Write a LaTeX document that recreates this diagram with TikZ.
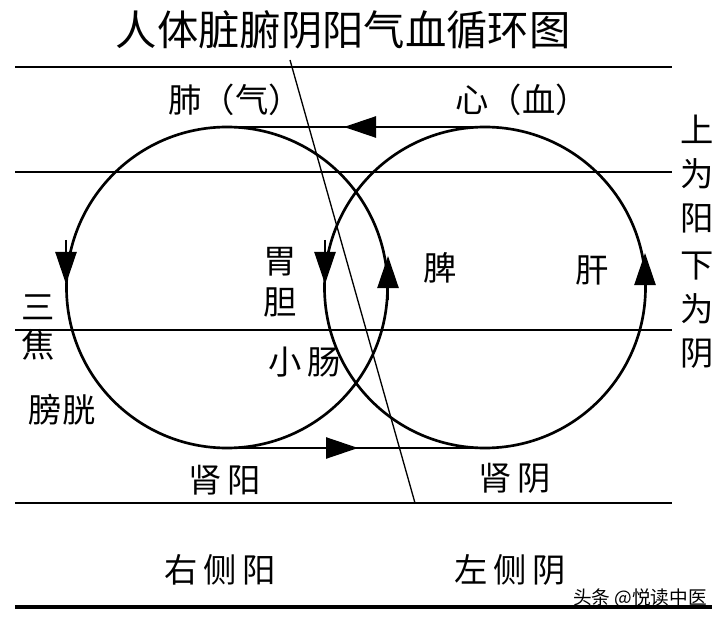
\documentclass[tikz,border=0pt]{standalone}
\usepackage{fontspec}
\setmainfont{Noto Sans CJK SC}
\usetikzlibrary{arrows.meta}
\begin{document}
\begin{tikzpicture}[x=0.75pt,y=-0.75pt,
  lbl/.style={inner sep=0pt,font=\fontsize{25}{27}\selectfont},
  ln/.style={line width=1pt},
  cir/.style={line width=2pt},
  tip/.style={-{Triangle[length=24pt,width=16pt]},line width=1pt}]
\useasboundingbox (0,0) rectangle (725,624);
\node[inner sep=0pt,font=\fontsize{31}{33}\selectfont] (title) at (343,30) {人体脏腑阴阳气血循环图};
\foreach \y in {67,172,330,503} \draw[ln] (15,\y) -- (672,\y);
\draw[line width=3.5pt] (15,607) -- (712,607);
\draw[ln] (290,60) -- (415,503);
\draw[cir] (227,287.5) circle[radius=160.5];
\draw[cir] (485,287.5) circle[radius=160.5];
\coordinate (ltop) at (227,127); \coordinate (rtop) at (485,127);
\coordinate (lbot) at (227,448); \coordinate (rbot) at (485,448);
\draw[ln] (rtop) -- (ltop);
\draw[ln] (lbot) -- (rbot);
\draw[tip] (395,127) -- (344,127);
\draw[tip] (310,448) -- (358,448);
\draw[tip] (66,240) -- (66,284);
\draw[tip] (325,240) -- (325,284);
\draw[tip] (388,300) -- (388,256);
\draw[tip] (645,296) -- (645,253);
\node[lbl] (fei) at (235,100) {肺（气）};
\node[lbl] (xin) at (522,100) {心（血）};
\node[lbl] (wei) at (280,262) {胃};
\node[lbl] (dan) at (280,302) {胆};
\node[lbl] (pi) at (440,268) {脾};
\node[lbl] (gan) at (592,270) {肝};
\node[lbl] (san) at (38,307) {三};
\node[lbl] (jiao) at (38,345) {焦};
\node[lbl] (xc) at (305,362) {小\,肠};
\node[lbl] (pg) at (62,410) {膀胱};
\node[lbl] (sy) at (225,480) {肾\,阳};
\node[lbl] (sn) at (515,478) {肾\,阴};
\node[lbl] (ry) at (220,570) {右\,侧\,阳};
\node[lbl] (zy) at (510,570) {左\,侧\,阴};
\node[lbl,align=center,font=\fontsize{25}{33}\selectfont] (up) at (697,174) {上\\为\\阳};
\node[lbl,align=center,font=\fontsize{25}{33}\selectfont] (down) at (697,310) {下\\为\\阴};
\node[inner sep=0pt,font=\fontsize{14}{15}\selectfont] (wm) at (640,598) {头条 @悦读中医};
\end{tikzpicture}
\end{document}
